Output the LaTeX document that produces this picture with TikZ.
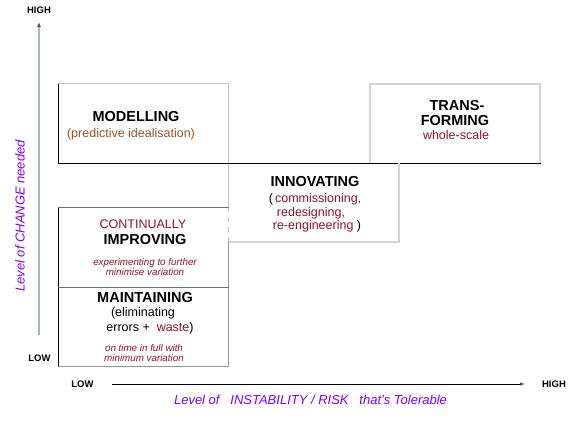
\documentclass[tikz,border=0pt]{standalone}
\usepackage{fontspec}
\setmainfont{Liberation Sans}
\usetikzlibrary{arrows.meta}
\definecolor{dred}{RGB}{140,20,40}
\definecolor{brn}{RGB}{150,85,40}
\definecolor{vio}{RGB}{128,0,255}
\definecolor{gA}{RGB}{192,192,192}
\definecolor{gB}{RGB}{212,212,212}
\definecolor{gC}{RGB}{110,110,110}
\definecolor{gD}{RGB}{150,150,150}
\definecolor{axb}{RGB}{165,178,200}
\definecolor{axh}{RGB}{70,80,120}
\tikzset{
  txt/.style={inner sep=0pt, anchor=base},
  ttl/.style={txt, font=\fontsize{14.5}{15}\selectfont\bfseries},
  sub/.style={txt, font=\fontsize{12.5}{13}\selectfont},
  sml/.style={txt, font=\fontsize{9.8}{10}\selectfont\itshape, text=dred},
  axl/.style={txt, font=\fontsize{9.5}{10}\selectfont\bfseries},
  vlab/.style={inner sep=0pt, font=\fontsize{13}{14}\selectfont\itshape, text=vio},
  blk/.style={line width=1pt, black},
}
\begin{document}
\begin{tikzpicture}[x=1pt,y=-1pt]
\useasboundingbox[fill=white] (0,0) rectangle (576,426);

% Modelling box
\draw[gA, line width=1pt] (58,83.5) -- (228.5,83.5) -- (228.5,207);
\draw[blk] (58,83.5) -- (58,163);
% Transforming box
\draw[gB, line width=2pt] (370,163) -- (370,84) -- (540,84) -- (540,163);
% common black line
\draw[blk] (58,163) -- (541,163);
% Innovating box
\draw[gB, line width=2pt] (399,163) -- (399,241.5) -- (229,241.5);
\draw[gA, line width=1pt, dash pattern=on 5pt off 5pt] (228.5,207) -- (228.5,242);
% Continually improving / maintaining
\draw[blk] (58,207) -- (58,366);
\draw[gC, line width=1pt] (58,207) -- (228.5,207);
\draw[gD, line width=1pt] (228.5,242) -- (228.5,366) -- (58,366);
\draw[gC, line width=1pt] (58,287) -- (228.5,287);

% Modelling text
\node[ttl] (mod) at (136,121) {MODELLING};
\node[sub, text=brn] (modsub) at (131,137) {(predictive idealisation)};
% Transforming text
\node[ttl] (tr1) at (457,110) {TRANS-};
\node[ttl] (tr2) at (455,125.5) {FORMING};
\node[sub, text=dred] (tr3) at (456,139.5) {whole-scale};
% Innovating
\node[ttl] (inn) at (315,186.5) {INNOVATING};
\node[sub, text=dred] (inn1) at (315,202) {\textcolor{black}{(}\,commissioning,};
\node[sub, text=dred] (inn2) at (311,216) {redesigning,};
\node[sub, text=dred] (inn3) at (317,229) {re-engineering \textcolor{black}{)}};
% Continually improving
\node[sub, text=dred] (ci1) at (143,228.5) {CONTINUALLY};
\node[ttl] (ci2) at (145,244) {IMPROVING};
\node[sml] (ci3) at (145,265.5) {experimenting to further};
\node[sml] (ci4) at (145,275.5) {minimise variation};
% Maintaining
\node[ttl] (ma1) at (145,302) {MAINTAINING};
\node[sub] (ma2) at (143,316.5) {(eliminating};
\node[sub] (ma3) at (150,331.5) {errors +\ \ \textcolor{dred}{waste})};
\node[sml] (ma4) at (144,351.5) {on time in full with};
\node[sml] (ma5) at (144,361.5) {minimum variation};

% Y axis
\coordinate (y0) at (39,335);
\coordinate (y1) at (39,22);
\draw[axb, line width=2pt, -{Latex[length=5pt,width=4pt,color=axh]}] (y0) -- (y1);
\node[axl] (yhigh) at (39,13.5) {HIGH};
\node[axl] (ylow) at (39.5,361.5) {LOW};
\node[vlab, rotate=90] (ylab) at (20,216) {Level of CHANGE needed};

% X axis
\coordinate (x0) at (112,384);
\coordinate (x1) at (525,384);
\draw[black, line width=0.8pt, -{Latex[length=5pt,width=3.5pt,color=axh]}] (x0) -- (x1);
\node[axl] (xlow) at (82.5,387.5) {LOW};
\node[axl] (xhigh) at (554,387.5) {HIGH};
\node[vlab, anchor=base] (xlab) at (310.5,404.5) {Level of\ \ \ INSTABILITY / RISK\ \ \ that's Tolerable};
\end{tikzpicture}
\end{document}
